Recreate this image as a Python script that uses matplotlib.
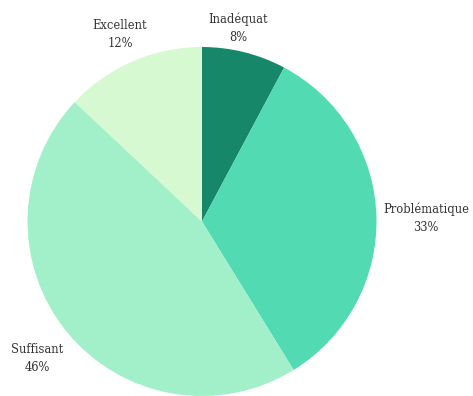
import matplotlib.pyplot as plt

# catégories et parts (%)
categories = ["Inadéquat", "Problématique", "Suffisant", "Excellent"]
values = [7.8, 33.4, 45.8, 13.0]
pct_labels = ["8%", "33%", "46%", "12%"]
colors = ["#17876a", "#52dbb2", "#a2f0c9", "#d7f9d1"]

fig = plt.figure(figsize=(4.73, 3.96), dpi=100)
ax = fig.add_axes([27.5 / 473, 0.0, 349 / 473, 349 / 396])

ax.pie(
    values,
    colors=colors,
    startangle=90,
    counterclock=False,
    radius=1.0,
    wedgeprops=dict(linewidth=0),
)
ax.set_xlim(-1, 1)
ax.set_ylim(-1, 1)
ax.set_aspect("auto")
ax.axis("off")

# position des étiquettes (coordonnées des données)
label_pos = [(0.206, 1.106), (1.284, 0.02), (-0.946, -0.785), (-0.47, 1.069)]
for name, pct, (x, y) in zip(categories, pct_labels, label_pos):
    ax.text(x, y, f"{name}\n{pct}", ha="center", va="center",
            fontsize=8.3, family="DejaVu Serif", color="#333333",
            linespacing=1.5, clip_on=False)

fig.savefig("out.png", dpi=100)
